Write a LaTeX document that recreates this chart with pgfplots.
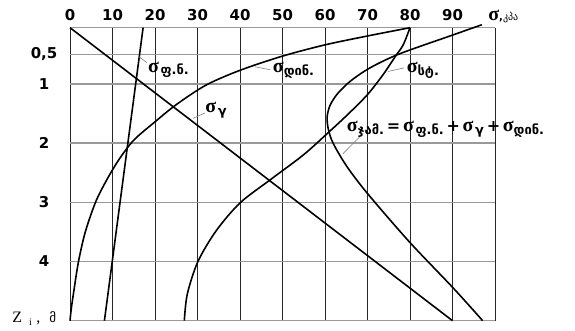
\documentclass[border=0pt]{standalone}
\usepackage{pgfplots}
\pgfplotsset{compat=1.18}
\usepackage{fontspec}
\setmainfont{DejaVu Sans}
\newfontfamily\sigfont{Liberation Serif}
\newfontfamily\geo{DejaVu Sans}

% bold sigma and a lowered Georgian subscript
\newcommand{\sg}{{\sigfont\fontsize{20}{20}\selectfont\bfseries σ}}
\newcommand{\sub}[1]{\raisebox{-0.45ex}{\geo\fontsize{13}{13}\selectfont\bfseries #1}}
\newcommand{\op}[1]{\;{\fontsize{16}{16}\selectfont\bfseries #1}\;}

\begin{document}
\begin{tikzpicture}
\begin{axis}[
    at={(0,0)}, anchor=south west,
    scale only axis, width=425bp, height=293bp,
    xmin=0, xmax=100, ymin=0.05, ymax=5,
    y dir=reverse,
    clip=false,
    axis line style={draw=none},
    major tick length=0pt,
    xtick={0,10,...,100},
    xticklabels={0,10,20,30,40,50,60,70,80,90,{}},
    xticklabel pos=upper,
    ytick={0.05,0.5,1,2,3,4,5},
    yticklabels={{},{0,5},1,2,3,4,{}},
    xticklabel style={anchor=center, yshift=13bp, font=\fontsize{15}{15}\selectfont\bfseries},
    yticklabel style={anchor=center, xshift=-26bp, font=\fontsize{15}{15}\selectfont\bfseries},
    grid=major,
    x grid style={black!85, line width=0.7pt},
    y grid style={black!40, line width=1.3pt},
]
% sigma_gamma
\addplot[black, line width=1.6pt] coordinates {(0,0.05) (90,5)};
% sigma_f.n.
\addplot[black, line width=1.6pt] coordinates {(17.2,0.05) (8.1,5)};
% sigma_din.
\addplot[black, line width=1.6pt, smooth] coordinates {
 (80,0.05) (70,0.19) (60,0.34) (50,0.53) (40,0.77) (32,1.02) (25,1.35)
 (20,1.64) (15,1.95) (11.5,2.28) (8.5,2.64) (6,3.0) (3.6,3.5) (2,4.0)
 (0.9,4.5) (0.3,4.8) (0,5)};
% sigma_st.
\addplot[black, line width=1.6pt, smooth] coordinates {
 (80,0.05) (78.4,0.34) (76.6,0.53) (73.7,0.84) (70,1.18) (65.3,1.52)
 (60.8,1.82) (54.9,2.2) (47.1,2.62) (40,3.01) (34.4,3.48) (30.1,4.0)
 (27.6,4.55) (26.9,5)};
% sigma_jam.
\addplot[black, line width=1.6pt, smooth] coordinates {
 (96.9,0.0) (90.2,0.17) (77.6,0.49) (70.8,0.72) (66.2,0.94) (63.0,1.16)
 (61.2,1.36) (60.5,1.56) (60.8,1.77) (61.9,2.0) (65.1,2.39) (70.1,2.86)
 (80,3.68) (90.2,4.45) (97.1,5)};

% labels and leader lines
\draw[gray, line width=0.6pt] (axis cs:16.2,0.54) -- (axis cs:18.1,0.64);
\node[anchor=base west, inner sep=0] at (axis cs:18.35,0.80) {\sg\,\sub{ფ.ნ.}};
\draw[gray, line width=0.6pt] (axis cs:43.5,0.71) -- (axis cs:47.1,0.76);
\node[anchor=base west, inner sep=0] at (axis cs:47.7,0.81) {\sg\sub{დინ.}};
\draw[gray, line width=0.6pt] (axis cs:74.8,0.79) -- (axis cs:78.6,0.73);
\node[anchor=base west, inner sep=0] at (axis cs:79.2,0.81) {\sg\sub{სტ.}};
\draw[gray, line width=0.6pt] (axis cs:29,1.58) -- (axis cs:31.8,1.49);
\node[anchor=base west, inner sep=0] at (axis cs:31.8,1.49) {\sg\,\sub{γ}};
\draw[gray, line width=0.6pt] (axis cs:64.2,2.18) -- (axis cs:68.2,1.89);
\node[anchor=base west, inner sep=0] at (axis cs:65.1,1.81)
  {\sg\sub{ჯამ.}\op{=}\sg\,\sub{ფ.ნ.}\op{+}\sg\,\sub{γ}\op{+}\sg\sub{დინ.}};
\node[anchor=base west, inner sep=0] at (axis cs:98.4,-0.07)
  {\sg{\bfseries ,}{\geo\fontsize{10}{10}\selectfont კპა}};
\node[anchor=base west, inner sep=0, font=\sigfont\fontsize{16}{16}\selectfont] at (axis cs:-13.6,5.03)
  {Z\;\,\raisebox{-0.4ex}{\fontsize{10}{10}\selectfont i}\;,\;\;{\geo\fontsize{13}{13}\selectfont მ}};
\end{axis}
\pgfresetboundingbox
\path[use as bounding box] (-70bp,-10.3bp) rectangle (505bp,320.7bp);
\end{tikzpicture}
\end{document}
